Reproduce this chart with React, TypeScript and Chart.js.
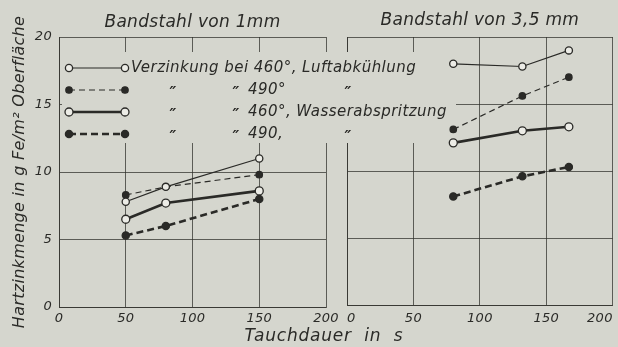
import React, { useEffect, useRef } from "react";
import { Chart, registerables } from "chart.js";

Chart.register(...registerables);

const BG = "#d5d6ce";
const INK = "#2a2a27";
const GRID = "rgba(45,45,40,0.72)";
const FAM = "'DejaVu Sans', sans-serif";

// ---- data ----
const xTickValues = [0, 50, 100, 150, 200];
const yTickValues = [0, 5, 10, 15, 20];
const panelTitles = ["Bandstahl von 1mm", "Bandstahl von 3,5 mm"];
const yAxisTitle = "Hartzinkmenge in g Fe/m² Oberfläche";
const xAxisTitle = "Tauchdauer  in  s";
const seriesNames = [
  "Verzinkung bei 460°, Luftabkühlung",
  "Verzinkung bei 490°, Luftabkühlung",
  "Verzinkung bei 460°, Wasserabspritzung",
  "Verzinkung bei 490°, Wasserabspritzung",
];
const legendFirst = "Verzinkung bei 460°, Luftabkühlung";
const ditto = "″";
const legendTemps = ["490°", "460°, Wasserabspritzung", "490,"];

const leftTimes = [50, 80, 150];
const left460Luft = [7.8, 8.9, 11.0];
const left490Luft = [8.3, 8.9, 9.8];
const left460Wasser = [6.5, 7.7, 8.6];
const left490Wasser = [5.3, 6.0, 8.0];

const rightTimes = [80, 132, 167];
const right460Luft = [18.0, 17.8, 19.0];
const right490Luft = [13.1, 15.6, 17.0];
const right460Wasser = [12.1, 13.0, 13.3];
const right490Wasser = [8.1, 9.6, 10.3];

// ---- styles ----
const styles = [
  { w: 1.2, dash: [] as number[], open: true, r: 3.6 },
  { w: 1.2, dash: [6, 4], open: false, r: 3.2 },
  { w: 2.6, dash: [] as number[], open: true, r: 4 },
  { w: 2.6, dash: [7, 4], open: false, r: 3.6 },
];

function makeDatasets(times: number[], series: number[][]) {
  return series.map((vals, i) => {
    const s = styles[i];
    return {
      label: seriesNames[i],
      data: times.map((t, k) => ({ x: t, y: vals[k] })),
      showLine: true,
      borderColor: INK,
      borderWidth: s.w,
      borderDash: s.dash,
      pointRadius: s.r,
      pointBorderWidth: 1.3,
      pointBorderColor: INK,
      pointBackgroundColor: s.open ? "#ecece6" : INK,
    };
  });
}

const spacingPlugin = {
  id: "spacing",
  beforeDraw(chart: any) {
    (chart.ctx as any).letterSpacing = "0.3px";
  },
};

const legendPlugin = {
  id: "legendOverlay",
  afterDraw(chart: any) {
    const ctx = chart.ctx as CanvasRenderingContext2D;
    ctx.save();
    ctx.fillStyle = BG;
    ctx.fillRect(62, 52, 383, 91);
    ctx.fillRect(440, 102, 16, 20);
    const rowsY = [68, 90, 112, 134];
    rowsY.forEach((y, i) => {
      const s = styles[i];
      ctx.strokeStyle = INK;
      ctx.lineWidth = s.w;
      ctx.setLineDash(s.dash);
      ctx.beginPath();
      ctx.moveTo(69, y);
      ctx.lineTo(125, y);
      ctx.stroke();
      ctx.setLineDash([]);
      [69, 125].forEach((x) => {
        ctx.beginPath();
        ctx.arc(x, y, s.r, 0, Math.PI * 2);
        ctx.fillStyle = s.open ? "#ecece6" : INK;
        ctx.fill();
        ctx.lineWidth = 1.3;
        ctx.stroke();
      });
    });
    ctx.fillStyle = INK;
    (ctx as any).letterSpacing = "0.45px";
    ctx.font = `italic 15px ${FAM}`;
    ctx.textBaseline = "middle";
    ctx.textAlign = "left";
    ctx.fillText(legendFirst, 131, rowsY[0]);
    legendTemps.forEach((t, i) => {
      const y = rowsY[i + 1];
      ctx.font = `bold italic 15px ${FAM}`;
      ctx.textAlign = "center";
      ctx.fillText(ditto, 173, y + 4);
      ctx.fillText(ditto, 236, y + 4);
      if (i !== 1) ctx.fillText(ditto, 348, y + 4);
      ctx.font = `italic 15px ${FAM}`;
      ctx.textAlign = "left";
      ctx.fillText(t, 248, y);
    });
    (ctx as any).letterSpacing = "0.8px";
    ctx.font = `italic 17px ${FAM}`;
    ctx.textAlign = "center";
    ctx.fillText(xAxisTitle, 324, 337);
    ctx.restore();
  },
};

function makeConfig(
  which: "left" | "right",
  times: number[],
  series: number[][]
): any {
  const isLeft = which === "left";
  return {
    type: "scatter",
    data: { datasets: makeDatasets(times, series) },
    plugins: isLeft ? [spacingPlugin] : [spacingPlugin, legendPlugin],
    options: {
      responsive: false,
      animation: false,
      devicePixelRatio: 1,
      layout: {
        padding: isLeft
          ? { left: 0, right: 292, top: 0, bottom: 0 }
          : { left: 347, right: 4, top: 0, bottom: 0 },
      },
      plugins: {
        legend: { display: false },
        tooltip: { enabled: false },
        title: {
          display: true,
          text: isLeft ? panelTitles[0] : panelTitles[1],
          fullSize: false,
          color: INK,
          font: { family: FAM, size: 17, style: "italic", weight: "normal", lineHeight: 1.2 },
          padding: isLeft ? { top: 12, bottom: 4.6 } : { top: 10, bottom: 6.6 },
        },
      },
      scales: {
        x: {
          type: "linear",
          min: 0,
          max: 200,
          afterBuildTicks: (s: any) => {
            s.ticks = xTickValues.map((v) => ({ value: v }));
          },
          afterFit: (s: any) => {
            s.height = isLeft ? 40 : 42;
            s.paddingLeft = 0;
            s.paddingRight = 0;
          },
          grid: { color: GRID, lineWidth: 1, drawTicks: false },
          border: { display: true, color: GRID },
          ticks: {
            color: INK,
            padding: isLeft ? 4 : 6,
            maxRotation: 0,
            autoSkip: false,
            align: isLeft ? "center" : "inner",
            font: { family: FAM, size: 13, style: "italic" },
          },
        },
        y: {
          type: "linear",
          min: 0,
          max: 20,
          afterBuildTicks: (s: any) => {
            s.ticks = yTickValues.map((v) => ({ value: v }));
          },
          afterFit: (s: any) => {
            s.width = isLeft ? 59 : 0;
            s.paddingTop = 0;
            s.paddingBottom = 0;
          },
          grid: { color: GRID, lineWidth: 1, drawTicks: false },
          border: { display: true, color: GRID },
          title: isLeft
            ? {
                display: true,
                text: yAxisTitle,
                color: INK,
                font: { family: FAM, size: 16, style: "italic", lineHeight: 1.2 },
                padding: { top: 10, bottom: 0 },
              }
            : { display: false },
          ticks: {
            display: isLeft,
            color: INK,
            padding: 7,
            font: { family: FAM, size: 13, style: "italic" },
          },
        },
      },
    },
  };
}

export default function App() {
  const leftRef = useRef<HTMLCanvasElement>(null);
  const rightRef = useRef<HTMLCanvasElement>(null);
  useEffect(() => {
    const l = new Chart(
      leftRef.current!,
      makeConfig("left", leftTimes, [left460Luft, left490Luft, left460Wasser, left490Wasser])
    );
    const r = new Chart(
      rightRef.current!,
      makeConfig("right", rightTimes, [right460Luft, right490Luft, right460Wasser, right490Wasser])
    );
    return () => {
      l.destroy();
      r.destroy();
    };
  }, []);
  return (
    <div
      style={{
        position: "absolute",
        left: 0,
        top: 0,
        width: 618,
        height: 347,
        background: BG,
        overflow: "hidden",
      }}
    >
      <canvas ref={leftRef} width={618} height={347} style={{ position: "absolute", left: 0, top: 0 }} />
      <canvas ref={rightRef} width={618} height={347} style={{ position: "absolute", left: 0, top: 0 }} />
    </div>
  );
}
